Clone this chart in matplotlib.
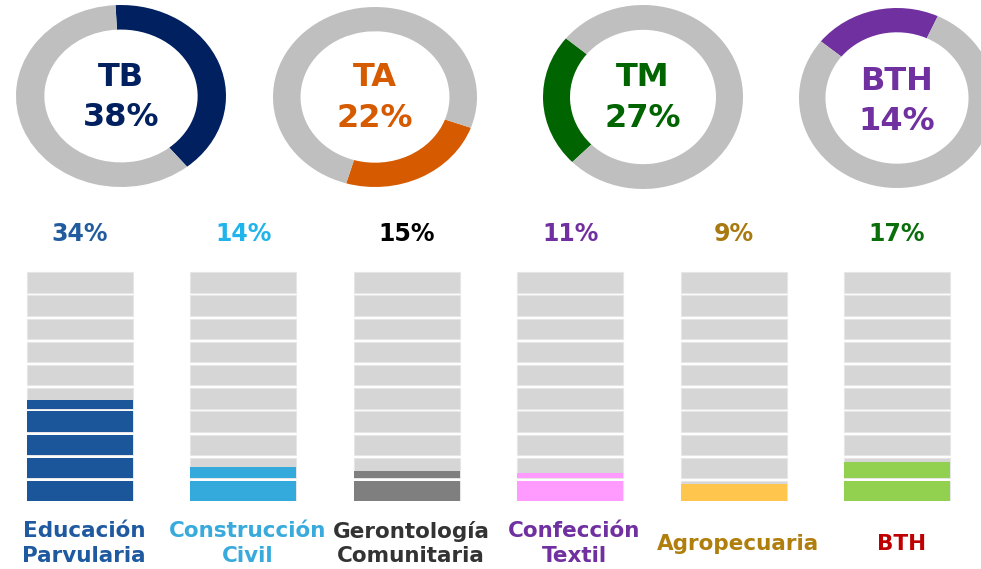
import matplotlib
matplotlib.use("Agg")
import matplotlib.pyplot as plt
import numpy as np

W, H, DPI = 981, 569, 100

# ---------------- data ----------------
donut_names = ["TB", "TA", "TM", "BTH"]
donut_labels = ["38%", "22%", "27%", "14%"]
donut_arc = [40, 24, 23.5, 21]          # visible arc share (%) as drawn
donut_start = [-3, 110, 225, 309]       # degrees clockwise from 12 o'clock

categories = ["Educación\nParvularia", "Construcción\nCivil",
              "Gerontología\nComunitaria", "Confección\nTextil",
              "Agropecuaria", "BTH"]
pct_labels = ["34%", "14%", "15%", "11%", "9%", "17%"]
fill_levels = [4.44, 1.55, 1.36, 1.24, 0.83, 1.79]   # filled segments (of 10)
n_segments = 10

# ---------------- styles ----------------
donut_colors = ["#002060", "#D65A00", "#006400", "#7030A0"]
ring_gray = "#BFBFBF"
bar_colors = ["#1B569B", "#33AADB", "#7F7F7F", "#FF9BFF", "#FFC54C", "#92D050"]
pct_colors = ["#215C9F", "#1FB4EC", "#000000", "#7030A0", "#A97A10", "#0A6E0A"]
label_colors = ["#1F5AA0", "#38AADC", "#333333", "#7030A0", "#B07E0C", "#C00000"]
seg_gray = "#D6D6D6"

fig = plt.figure(figsize=(W / DPI, H / DPI), dpi=DPI)
fig.patch.set_facecolor("white")


def fx(px):
    return px / W


def fy(py):
    return 1 - py / H


# ---------------- donuts ----------------
centers = [(121, 96), (375, 97), (643, 97), (897, 98)]
rxs = [105, 102, 100, 98]
rys = [91, 90, 92, 90]
name_y = [77, 77, 77, 81]
pct_y = [117, 118, 119, 122]

for i in range(4):
    cx, cy = centers[i]
    rx, ry = rxs[i], rys[i]
    ax = fig.add_axes([fx(cx - rx), fy(cy + ry), 2 * rx / W, 2 * ry / H])
    ax.pie([donut_arc[i], 100 - donut_arc[i]],
           colors=[donut_colors[i], ring_gray],
           startangle=90 - donut_start[i], counterclock=False,
           radius=1.0,
           wedgeprops=dict(width=0.27, edgecolor="none"))
    ax.set_aspect("auto")
    ax.set_xlim(-1, 1)
    ax.set_ylim(-1, 1)
    ax.axis("off")
    fig.text(fx(cx), fy(name_y[i]), donut_names[i], ha="center", va="center",
             fontsize=23, fontweight="bold", color=donut_colors[i])
    fig.text(fx(cx), fy(pct_y[i]), donut_labels[i], ha="center", va="center",
             fontsize=23, fontweight="bold", color=donut_colors[i])

# ---------------- segmented bars ----------------
bottom_px = 501.3
pitch = 23.2
seg_h = 0.875
bax = fig.add_axes([0, fy(bottom_px), 1, n_segments * pitch / H])
bax.set_xlim(-0.49, 5.514)
bax.set_ylim(0, n_segments)
bax.axis("off")

x = np.arange(len(categories))
bw = 0.649
for s in range(n_segments):
    bax.bar(x, seg_h, bottom=s, width=bw, color=seg_gray,
            edgecolor="#E6E6E6", linewidth=0.8)
    fills = np.clip(np.array(fill_levels) - s, 0, 1) * seg_h
    for i in range(len(categories)):
        if fills[i] > 0:
            bax.bar(x[i], fills[i], bottom=s, width=bw, color=bar_colors[i],
                    edgecolor="none")

pct_row_y = (bottom_px - 234) / pitch
label_y = (bottom_px - 543.5) / pitch
for i in range(len(categories)):
    bax.text(x[i], pct_row_y, pct_labels[i], ha="center", va="center",
             fontsize=17, fontweight="bold", color=pct_colors[i])
    bax.text(x[i] + 0.025, label_y, categories[i], ha="center", va="center",
             multialignment="center", linespacing=1.3,
             fontsize=15.5, fontweight="bold", color=label_colors[i])

fig.savefig("out.png", dpi=DPI, facecolor="white")
